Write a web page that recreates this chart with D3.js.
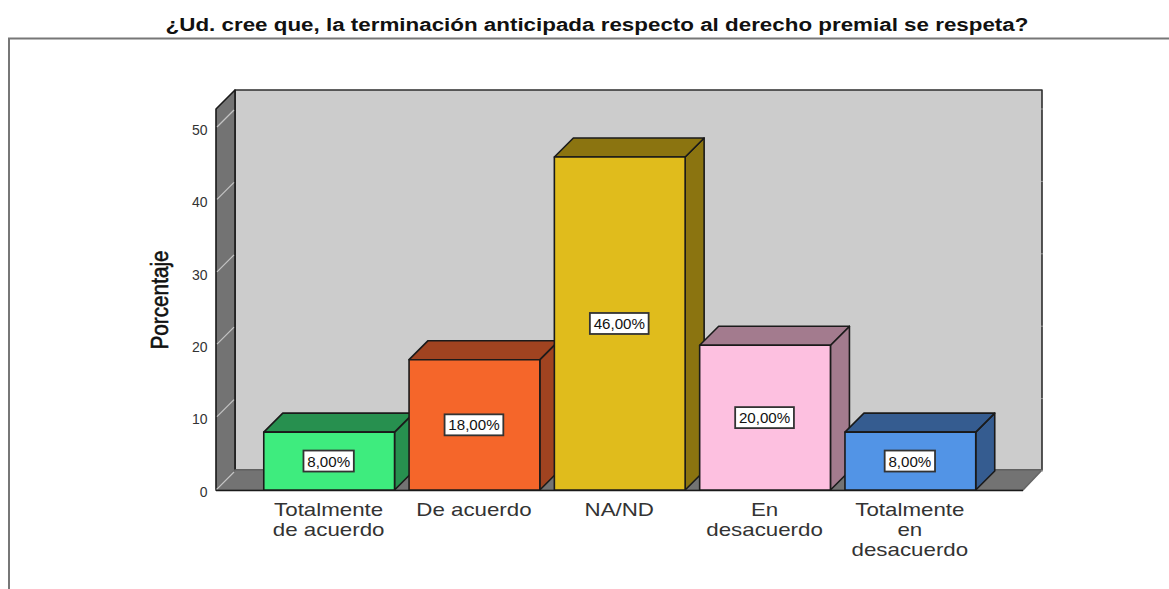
<!DOCTYPE html>
<html>
<head>
<meta charset="utf-8">
<script src="https://cdn.jsdelivr.net/npm/d3@7"></script>
<style>
html, body { margin: 0; padding: 0; background: #fff; overflow: hidden; }
svg { display: block; }
text { font-family: "Liberation Sans", Arial, sans-serif; fill: #222; }
</style>
</head>
<body>
<div id="chart"></div>
<script>
var titleText = "¿Ud. cree que, la terminación anticipada respecto al derecho premial se respeta?";
var yLabel = "Porcentaje";
var categories = ["Totalmente\nde acuerdo", "De acuerdo", "NA/ND", "En\ndesacuerdo", "Totalmente\nen\ndesacuerdo"];
var values = [8, 18, 46, 20, 8];
var valueLabels = ["8,00%", "18,00%", "46,00%", "20,00%", "8,00%"];
var frontColors = ["#3eec7e", "#f5662a", "#e0bc1c", "#fdc0e0", "#5294e6"];
var sideColors = ["#27904f", "#a04320", "#8b7410", "#a37b8e", "#355c90"];
var yTicks = [0, 10, 20, 30, 40, 50];

var width = 1169, height = 589;
var depth = 19;
var floorY = 490, wallX = 216, floorRight = 1023, yTop = 109;

var svg = d3.select("#chart").append("svg").attr("width", width).attr("height", height);

var x = d3.scaleBand().domain(categories).range([256.5, 983]).paddingInner(0.1).paddingOuter(0.05);
var y = d3.scaleLinear().domain([0, 50]).range([floorY, 128]);

// outer frame, open on the right and at the bottom
svg.append("path")
	.attr("d", d3.line()([[9, height], [9, 38.5], [width, 38.5]]))
	.attr("fill", "none").attr("stroke", "#777").attr("stroke-width", 2);

svg.append("text")
	.attr("transform", "translate(597,31) scale(1.178,1)")
	.attr("text-anchor", "middle")
	.style("font-size", "19px").style("font-weight", "bold").style("fill", "#111")
	.text(titleText);

function poly(pts, fill, stroke) {
	return svg.append("path")
		.attr("d", d3.line()(pts) + "Z")
		.attr("fill", fill)
		.attr("stroke", stroke || "#1a1a1a")
		.attr("stroke-width", 1.6)
		.attr("stroke-linejoin", "round");
}

// back wall, left wall, floor
poly([[wallX + depth, floorY - depth - 1], [wallX + depth, yTop - depth], [floorRight + depth, yTop - depth], [floorRight + depth, floorY - depth - 1]], "#cccccc", "#2e2e2e");
poly([[wallX, floorY], [wallX, yTop], [wallX + depth, yTop - depth], [wallX + depth, floorY - depth]], "#737373");
poly([[wallX, floorY], [wallX + depth, floorY - depth - 1], [floorRight + depth, floorY - depth - 1], [floorRight, floorY]], "#737373", "#666");
svg.append("line").attr("x1", wallX).attr("x2", floorRight).attr("y1", floorY + 0.5).attr("y2", floorY + 0.5)
	.attr("stroke", "#1a1a1a").attr("stroke-width", 1.6);

// grid lines run across the left wall, with a small mark left on the far edge
svg.selectAll(".wall-tick").data(yTicks).enter().append("line")
	.attr("class", "wall-tick")
	.attr("x1", wallX + 1).attr("x2", wallX + depth - 1)
	.attr("y1", function(d) { return y(d) - 1; })
	.attr("y2", function(d) { return y(d) - depth + 1; })
	.attr("stroke", "#c4c4c4").attr("stroke-width", 1.2);
svg.selectAll(".edge-tick").data(yTicks).enter().append("line")
	.attr("class", "edge-tick")
	.attr("x1", floorRight + depth - 1).attr("x2", floorRight + depth + 1)
	.attr("y1", function(d) { return y(d) - depth; })
	.attr("y2", function(d) { return y(d) - depth; })
	.attr("stroke", "#999").attr("stroke-width", 1);

var yAxis = svg.append("g")
	.attr("transform", "translate(" + (wallX - 0.5) + ",0)")
	.call(d3.axisLeft(y).tickValues(yTicks).tickSize(0).tickPadding(8));
yAxis.select(".domain").remove();
yAxis.selectAll("text").style("font-size", "14px").style("fill", "#333").attr("font-family", null).attr("dy", "0.45em");

svg.append("text")
	.attr("transform", "translate(168,300) rotate(-90) scale(0.865,1)")
	.attr("text-anchor", "middle")
	.style("font-size", "24px").style("fill", "#111").style("stroke", "#111").style("stroke-width", 0.6)
	.text(yLabel);

// bars, drawn left to right so that each one covers the side of the last
categories.forEach(function(c, i) {
	var x0 = x(c), x1 = x0 + x.bandwidth(), top = y(values[i]), base = y(0);
	poly([[x1, base], [x1, top], [x1 + depth, top - depth], [x1 + depth, base - depth]], sideColors[i]);
	poly([[x0, top], [x0 + depth, top - depth], [x1 + depth, top - depth], [x1, top]], sideColors[i]);
	poly([[x0, base], [x0, top], [x1, top], [x1, base]], frontColors[i]);
});

var xAxis = svg.append("g")
	.attr("transform", "translate(-0.5," + floorY + ")")
	.call(d3.axisBottom(x).tickSize(0).tickFormat(""));
xAxis.select(".domain").remove();
xAxis.selectAll(".tick").each(function(c) {
	var t = d3.select(this).select("text")
		.attr("y", null).attr("dy", null)
		.attr("transform", "scale(1.175,1)")
		.style("font-size", "19px").style("fill", "#333");
	c.split("\n").forEach(function(line, j) {
		t.append("tspan").attr("x", 0).attr("y", 26.5 + j * 20).text(line);
	});
});

// value labels in white boxes at half the bar height
categories.forEach(function(c, i) {
	var g = svg.append("g")
		.attr("transform", "translate(" + (x(c) + x.bandwidth() / 2 - 0.5) + "," + y(values[i] / 2) + ")");
	var rect = g.append("rect");
	var label = g.append("text")
		.attr("text-anchor", "middle").attr("y", 5.5)
		.attr("transform", "scale(1.08,1)")
		.style("font-size", "14px").style("fill", "#111")
		.text(valueLabels[i]);
	var w = label.node().getComputedTextLength() * 1.08 + 7.5;
	rect.attr("x", -w / 2).attr("y", -10.5).attr("width", w).attr("height", 21)
		.attr("fill", "#fff").attr("stroke", "#333").attr("stroke-width", 1.8);
});
</script>
</body>
</html>
